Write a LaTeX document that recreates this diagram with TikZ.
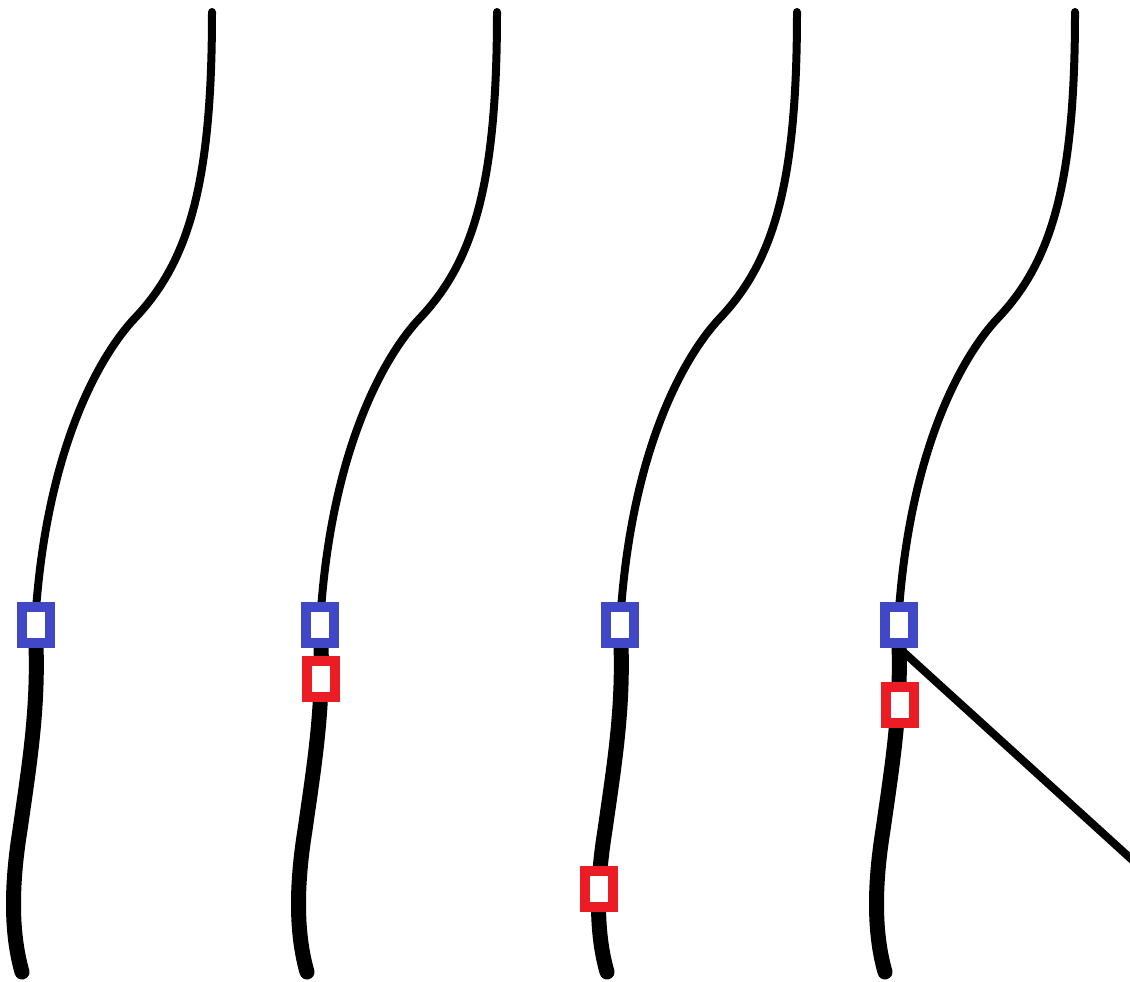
\documentclass[tikz,border=0pt]{standalone}
\definecolor{sqblue}{RGB}{64,72,200}
\definecolor{sqred}{RGB}{236,28,36}
\tikzset{
  thinstrand/.style={line width=8pt, line cap=round, black},
  thickstrand/.style={line width=15pt, line cap=round, black},
  marker/.style={rectangle, draw, fill=white, line width=10pt, minimum width=28pt, minimum height=36pt, inner sep=0pt},
  bluemark/.style={marker, draw=sqblue},
  redmark/.style={marker, draw=sqred},
  branch/.style={line width=8pt, black}
}
\begin{document}
\begin{tikzpicture}[x=1pt,y=-1pt]
\useasboundingbox (0,0) rectangle (1130,982);
\clip (0,0) rectangle (1130,982);
\foreach \dx in {0,285,585,863}{
  \begin{scope}[xshift=\dx pt]
    \draw[thinstrand] (212,12) .. controls (212,180) and (190,260) .. (135,318)
                              .. controls (100,355) and (45,450) .. (35,625);
    \draw[thickstrand] (35,625) .. controls (40,700) and (30,760) .. (20,830)
                               .. controls (12,880) and (10,930) .. (22,972);
  \end{scope}
}
\node[bluemark] (b1) at (36,625) {};
\node[bluemark] (b2) at (320,625) {};
\node[bluemark] (b3) at (620,625) {};
\node[bluemark] (b4) at (899,625) {};
\coordinate (e4) at (1140,867);
\draw[branch] (b4.south) -- (e4);
\node[bluemark] at (b4) {};
\node[redmark] (r2) at (321,679) {};
\node[redmark] (r3) at (599,889) {};
\node[redmark] (r4) at (900,705) {};
\end{tikzpicture}
\end{document}
